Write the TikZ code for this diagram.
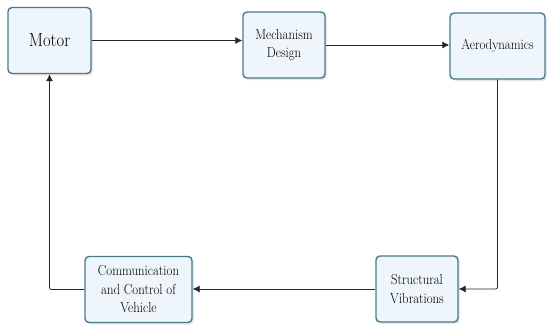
\documentclass[tikz,border=0pt]{standalone}
\usepackage{fontspec}
\newfontfamily\boxfont[FakeStretch = 0.88]{Latin Modern Roman}
\usepackage{tikz}
\usetikzlibrary{arrows.meta}
\usetikzlibrary{positioning, shadows}
\definecolor{boxline}{HTML}{4A7A88}
\definecolor{boxfill}{HTML}{EFF6FB}
\tikzset{
block/.style = { rectangle, draw = boxline, line width = 1.4pt, fill = boxfill, rounded corners = 4pt, minimum height = 66pt, align = center, inner sep = 2pt, font = \boxfont\fontsize{14.5}{18.5}\selectfont, drop shadow = {opacity = 0.18, shadow xshift = 2pt, shadow yshift = -2pt} },
flow/.style = { draw = black!85, line width = 0.8pt, rounded corners = 2pt, -{Latex[length = 7pt, width = 7pt]} },
}

\begin{document}
\begin{tikzpicture}[x = 1pt, y = -1pt]
      \useasboundingbox (0, 0) rectangle (547, 327);
      \node[block, minimum width = 83pt, font = \boxfont\fontsize{19}{20}\selectfont] (motor) at (49.5, 40.5) {Motor};
      \node[block, minimum width = 82pt] (mech) at (284, 45) {Mechanism\\Design};
      \node[block, minimum width = 95pt] (aero) at (497.5, 46) {Aerodynamics};
      \node[block, minimum width = 82pt] (struct) at (417, 289) {Structural\\Vibrations};
      \node[block, minimum width = 107pt] (comm) at (138.5, 289.5) {Communication\\and Control of\\Vehicle};
      \draw[flow] (motor.east) -- (motor.east -| mech.west);
      \draw[flow] (mech.east) -- (mech.east -| aero.west);
      \draw[flow] (aero.south) |- (struct.east);
      \draw[flow] (struct.west) -- (struct.west -| comm.east);
      \draw[flow] (comm.west) -| (motor.south);
    \end{tikzpicture}
\end{document}
